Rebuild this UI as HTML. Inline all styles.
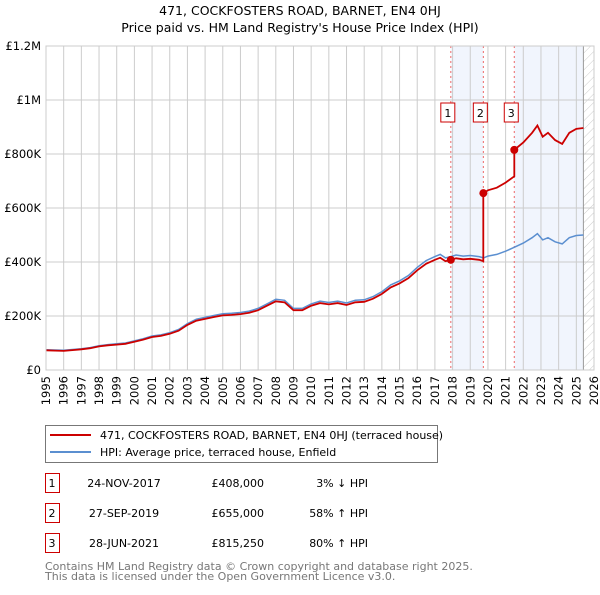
<!DOCTYPE html>
<html><head><meta charset="utf-8"><style>
body{margin:0;background:#fff;font-family:"Liberation Sans","DejaVu Sans",sans-serif;}
svg text{font-family:"DejaVu Sans","Liberation Sans",sans-serif;}
</style></head><body>
<svg id="chart" width="600" height="590" xmlns="http://www.w3.org/2000/svg">
<defs><pattern id="hatch" width="6" height="6" patternUnits="userSpaceOnUse" patternTransform="rotate(45)"><line x1="0" y1="0" x2="0" y2="6" stroke="#ccc" stroke-width="1"/></pattern></defs>
<text x="300" y="15" text-anchor="middle" font-size="12.5">471, COCKFOSTERS ROAD, BARNET, EN4 0HJ</text>
<text x="300" y="32" text-anchor="middle" font-size="12.5">Price paid vs. HM Land Registry's House Price Index (HPI)</text>
<g id="plot"></g>
<g>
<rect x="45.5" y="425.5" width="392" height="37" fill="#fff" stroke="#777"/>
<line x1="50" y1="435" x2="91" y2="435" stroke="#cc0000" stroke-width="2"/>
<text x="100" y="439" font-size="11">471, COCKFOSTERS ROAD, BARNET, EN4 0HJ (terraced house)</text>
<line x1="50" y1="452" x2="91" y2="452" stroke="#5b8fd0" stroke-width="2"/>
<text x="100" y="456" font-size="11">HPI: Average price, terraced house, Enfield</text>
</g>
<g id="table" font-size="11"></g>
<text x="45" y="570" font-size="11" fill="#777">Contains HM Land Registry data © Crown copyright and database right 2025.</text>
<text x="45" y="580" font-size="11" fill="#777">This data is licensed under the Open Government Licence v3.0.</text>
</svg>
<script>
const hpiYears=[1995,1995.5,1996,1996.5,1997,1997.5,1998,1998.5,1999,1999.5,2000,2000.5,2001,2001.5,2002,2002.5,2003,2003.5,2004,2004.5,2005,2005.5,2006,2006.5,2007,2007.5,2008,2008.5,2009,2009.5,2010,2010.5,2011,2011.5,2012,2012.5,2013,2013.5,2014,2014.5,2015,2015.5,2016,2016.5,2017,2017.3,2017.6,2017.9,2018.2,2018.6,2019,2019.5,2019.75,2020,2020.5,2021,2021.5,2022,2022.5,2022.8,2023.1,2023.4,2023.8,2024.2,2024.6,2025,2025.4];
const hpiValues=[75,74,73,76,79,83,90,94,97,100,108,116,126,130,138,150,172,188,195,202,208,210,213,218,228,245,262,258,228,228,245,255,250,255,248,258,260,272,290,315,330,350,380,405,420,428,415,420,426,422,424,420,415,422,428,440,455,470,490,505,482,490,475,467,490,498,500];
const saleDates=[2017.9,2019.74,2021.49];
const salePrices=[408,655,815.25];
const saleLabels=["1","2","3"];
const saleDateText=["24-NOV-2017","27-SEP-2019","28-JUN-2021"];
const salePriceText=["£408,000","£655,000","£815,250"];
const saleHpiText=["3% ↓ HPI","58% ↑ HPI","80% ↑ HPI"];
const yTicks=[0,200,400,600,800,1000,1200];
const yTickLabels=["£0","£200K","£400K","£600K","£800K","£1M","£1.2M"];
const xTicks=[];for(let y=1995;y<=2026;y++)xTicks.push(y);

const X0=46,X1=594,Y0=370,Y1=46;
const xs=y=>X0+(y-1995)/31*(X1-X0);
const ys=v=>Y0-v/1200*(Y0-Y1);
const NS="http://www.w3.org/2000/svg";
const plot=document.getElementById('plot');
function mk(tag,attrs,parent){const e=document.createElementNS(NS,tag);for(const k in attrs)e.setAttribute(k,attrs[k]);(parent||plot).appendChild(e);return e;}
function hpiAt(t){for(let i=1;i<hpiYears.length;i++){if(t<=hpiYears[i]){const f=(t-hpiYears[i-1])/(hpiYears[i]-hpiYears[i-1]);return hpiValues[i-1]+f*(hpiValues[i]-hpiValues[i-1]);}}return hpiValues[hpiValues.length-1];}
const lastYear=hpiYears[hpiYears.length-1];
// shaded bands
let b=mk('rect',{x:xs(saleDates[0]),y:Y1,width:xs(saleDates[1])-xs(saleDates[0]),height:Y0-Y1,fill:'#eef3fc',opacity:0.8});


b=mk('rect',{x:xs(saleDates[2]),y:Y1,width:xs(lastYear)-xs(saleDates[2]),height:Y0-Y1,fill:'#eef3fc',opacity:0.8});


let h=mk('rect',{x:xs(lastYear),y:Y1,width:X1-xs(lastYear),height:Y0-Y1,fill:'url(#hatch)'});


// grid
xTicks.forEach(t=>{const l=mk('line',{x1:xs(t),x2:xs(t),y1:Y1,y2:Y0,stroke:'#ccc','stroke-width':1});


const tx=mk('text',{x:0,y:0,'font-size':11.5,'text-anchor':'end',transform:`translate(${xs(t)+4},${Y0+6}) rotate(-90)`});tx.textContent=t;

});
yTicks.forEach((t,i)=>{const l=mk('line',{x1:X0,x2:X1,y1:ys(t),y2:ys(t),stroke:'#ccc','stroke-width':1});


const tx=mk('text',{x:X0-5,y:ys(t)+4,'font-size':11.5,'text-anchor':'end'});tx.textContent=yTickLabels[i];

});
let fr=mk('line',{x1:xs(lastYear),x2:xs(lastYear),y1:Y1,y2:Y0,stroke:'#999','stroke-width':1});


// sale lines
saleDates.forEach((d,i)=>{const l=mk('line',{x1:xs(d),x2:xs(d),y1:Y1,y2:Y0,stroke:'#e66','stroke-width':1,'stroke-dasharray':'2,3'});


const r=mk('rect',{x:xs(d)-10,y:103,width:14,height:19,fill:'#fff',stroke:'#cc0000','stroke-width':1});


const t=mk('text',{x:xs(d)-3,y:117,'font-size':11,'text-anchor':'middle'});t.textContent=saleLabels[i];

});
// HPI line
let pts=hpiYears.map((y,i)=>xs(y).toFixed(1)+','+ys(hpiValues[i]).toFixed(1)).join(' ');
const hl=mk('polyline',{points:pts,fill:'none',stroke:'#5b8fd0','stroke-width':1.5});


// property line: HPI scaled by ratio at each sale
const ratio0=salePrices[0]/hpiAt(saleDates[0]);
let rp=[];
hpiYears.forEach((y,i)=>{if(y<saleDates[0])rp.push([y,hpiValues[i]*ratio0]);});
saleDates.forEach((d,k)=>{const r=salePrices[k]/hpiAt(d);rp.push([d,salePrices[k]]);const end=k+1<saleDates.length?saleDates[k+1]:1e9;
hpiYears.forEach((y,i)=>{if(y>d&&y<end)rp.push([y,hpiValues[i]*r]);});
if(k+1<saleDates.length)rp.push([end,hpiAt(end)*r]);});
const pl=mk('polyline',{points:rp.map(p=>xs(p[0]).toFixed(1)+','+ys(p[1]).toFixed(1)).join(' '),fill:'none',stroke:'#cc0000','stroke-width':1.8});


saleDates.forEach((d,i)=>{const c=mk('circle',{cx:xs(d),cy:ys(salePrices[i]),r:4,fill:'#cc0000'});

});
// frame
let f=mk('rect',{x:X0,y:Y1,width:X1-X0,height:Y0-Y1,fill:'none',stroke:'#ccc'});


// table
const tbl=document.getElementById('table');
saleLabels.forEach((s,i)=>{const y=473+i*30;
const r=mk('rect',{x:45.5,y:y+0.5,width:14,height:19,fill:'#fff',stroke:'#cc0000'},tbl);


const cells=[[52,s,'middle'],[124,saleDateText[i],'middle'],[264,salePriceText[i],'end'],[368,saleHpiText[i],'end']];
cells.forEach(c=>{const t=mk('text',{x:c[0],y:y+14,'text-anchor':c[2]},tbl);t.textContent=c[1];

});});
</script>
</body></html>
